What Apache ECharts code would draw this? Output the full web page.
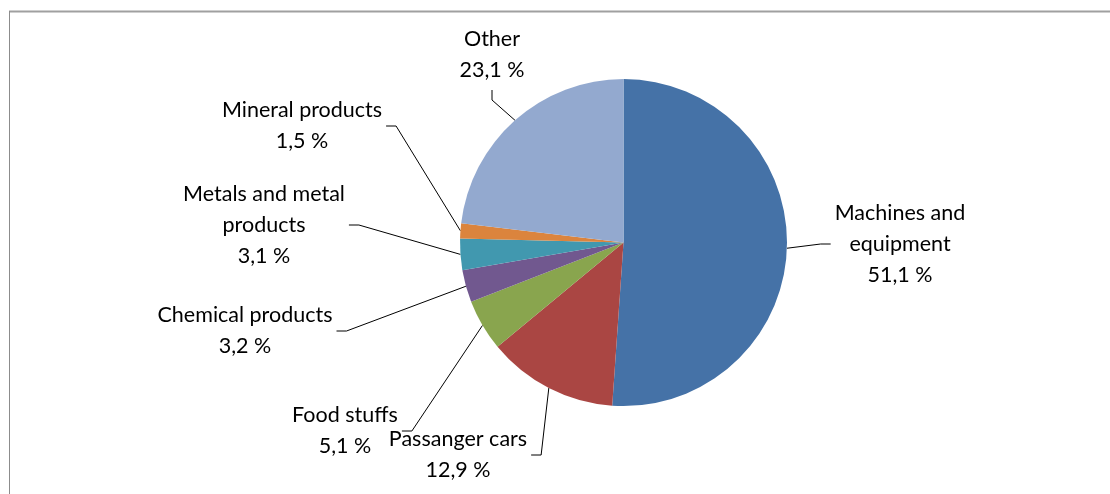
<!DOCTYPE html>
<html>
<head>
<meta charset="utf-8">
<script src="https://cdn.jsdelivr.net/npm/echarts@6/dist/echarts.min.js"></script>
<style>
  html, body { margin: 0; padding: 0; background: #ffffff; }
  #chart { width: 1110px; height: 494px; }
</style>
</head>
<body>
<div id="chart"></div>
<script>
// Export structure by product group, share of total (%)
const categories = [
  'Machines and\nequipment',
  'Passanger cars',
  'Food stuffs',
  'Chemical products',
  'Metals and metal\nproducts',
  'Mineral products',
  'Other'
];
const shares = [51.1, 12.9, 5.1, 3.2, 3.1, 1.5, 23.1];
const sliceColors = ['#4572A7', '#AA4643', '#89A54E', '#71588F', '#4198AF', '#DB843D', '#93A9CF'];

// Pie geometry
const CX = 623.5, CY = 242.6, R = 163.5;

// Where each label block sits (centre) and which side its leader line leaves from
const labelSpots = [
  { x: 900, y: 244, side: 'left' },
  { x: 458, y: 455, side: 'right' },
  { x: 345, y: 431, side: 'right' },
  { x: 245, y: 331, side: 'right' },
  { x: 264, y: 225, side: 'right' },
  { x: 302, y: 126, side: 'right' },
  { x: 492, y: 55,  side: 'bottom' }
];

const total = shares.reduce((a, b) => a + b, 0);
// point on the rim at the middle angle of each slice (clockwise from 12 o'clock)
const rimPoints = (() => {
  let acc = 0;
  return shares.map(v => {
    const mid = (acc + v / 2) / total * Math.PI * 2;
    acc += v;
    return [CX + R * Math.sin(mid), CY - R * Math.cos(mid)];
  });
})();

const fmt = v => v.toFixed(1).replace('.', ',') + ' %';

const chart = echarts.init(document.getElementById('chart'), null, { renderer: 'canvas' });

chart.setOption({
  animation: false,
  backgroundColor: '#ffffff',
  graphic: [
    { type: 'line', shape: { x1: 9, y1: 11.5, x2: 1110, y2: 11.5 }, style: { stroke: '#a0a0a0', lineWidth: 2 }, silent: true },
    { type: 'line', shape: { x1: 9.5, y1: 11, x2: 9.5, y2: 494 }, style: { stroke: '#8c8c8c', lineWidth: 1 }, silent: true }
  ],
  series: [{
    type: 'pie',
    center: [CX, CY],
    radius: R,
    startAngle: 90,
    clockwise: true,
    avoidLabelOverlap: false,
    silent: true,
    data: categories.map((name, i) => ({
      name,
      value: shares[i],
      itemStyle: { color: sliceColors[i] }
    })),
    label: {
      show: true,
      position: 'outside',
      formatter: p => p.name + '\n' + fmt(p.value),
      fontFamily: 'Lato',
      fontSize: 21.5,
      lineHeight: 31,
      color: '#000000',
      align: 'center'
    },
    labelLine: {
      show: true,
      length: 10,
      length2: 10,
      smooth: false,
      lineStyle: { color: '#000000', width: 1 }
    },
    labelLayout: params => {
      const i = params.dataIndex;
      const spot = labelSpots[i];
      const w = params.labelRect.width;
      const h = params.labelRect.height;
      const gap = 4, seg = 10;
      let end, elbow;
      if (spot.side === 'left') {
        end = [spot.x - w / 2 - gap, spot.y];
        elbow = [end[0] - seg, end[1]];
      } else if (spot.side === 'right') {
        end = [spot.x + w / 2 + gap, spot.y];
        elbow = [end[0] + seg, end[1]];
      } else {
        end = [spot.x, spot.y + h / 2 + gap];
        elbow = [end[0], end[1] + seg];
      }
      return {
        x: spot.x,
        y: spot.y,
        align: 'center',
        verticalAlign: 'middle',
        hideOverlap: false,
        labelLinePoints: [rimPoints[i], elbow, end]
      };
    }
  }]
});
</script>
</body>
</html>
